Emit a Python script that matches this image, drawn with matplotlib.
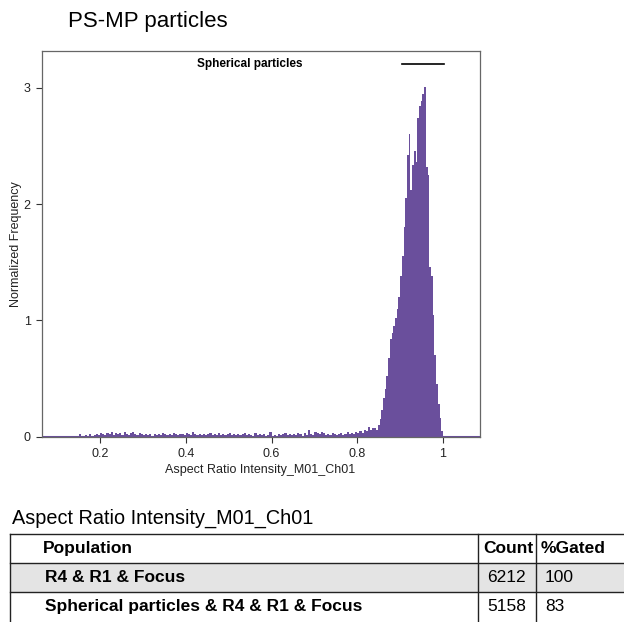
import matplotlib
matplotlib.use("Agg")
import matplotlib.pyplot as plt
from matplotlib.patches import Rectangle
import numpy as np

plt.rcParams["font.family"] = ["Liberation Sans", "DejaVu Sans"]

purple = "#6a4f9c"

# low-level tail, bins of 0.005 from 0.14 to 0.84
tail_start = 0.14
tail_width = 0.005
tail_heights = [
    0, 0, 0.02, 0, 0, 0.01, 0, 0.02, 0, 0.01,
    0.02, 0.01, 0.03, 0.02, 0.01, 0.03, 0.02, 0.04, 0.01, 0.03,
    0.02, 0.03, 0.01, 0.04, 0.02, 0.01, 0.03, 0.04, 0.02, 0.01,
    0.03, 0.02, 0.01, 0.02, 0.01, 0.02, 0, 0.02, 0.01, 0.02,
    0.01, 0.03, 0.02, 0.01, 0.02, 0.01, 0.03, 0.02, 0.01, 0.02,
    0.02, 0.01, 0.03, 0.02, 0.01, 0.04, 0.02, 0.01, 0.02, 0.01,
    0.02, 0.01, 0.02, 0.03, 0.01, 0.02, 0.01, 0.03, 0.01, 0.02,
    0.01, 0.02, 0.03, 0.01, 0.02, 0.01, 0.02, 0.01, 0.02, 0.03,
    0.01, 0.02, 0.01, 0, 0.03, 0.01, 0.02, 0.01, 0.02, 0,
    0.01, 0.04, 0, 0.01, 0, 0.02, 0.01, 0.02, 0.03, 0.01,
    0.02, 0.01, 0.02, 0.01, 0.03, 0.02, 0, 0.03, 0.01, 0.06,
    0.02, 0.01, 0.04, 0.03, 0.02, 0.04, 0.03, 0.01, 0.02, 0.01,
    0.03, 0.02, 0.01, 0.02, 0.03, 0.01, 0.02, 0.04, 0.02, 0.03,
    0.02, 0.04, 0.03, 0.05, 0.03, 0.06, 0.05, 0.08, 0.06, 0.07,
]

# main peak, bins of 0.004 from 0.84
peak_width = 0.004
peak_heights = [
    0.07, 0.06, 0.10, 0.15, 0.23, 0.33, 0.41, 0.52, 0.68, 0.84,
    0.89, 0.95, 1.02, 1.10, 1.20, 1.38, 1.55, 1.80, 2.05, 2.42,
    2.60, 2.12, 2.34, 2.46, 2.36, 2.74, 2.84, 2.89, 2.95, 3.01,
    2.32, 2.25, 1.46, 1.38, 1.05, 0.70, 0.45, 0.28, 0.16, 0.05,
]

x_ticks = [0.2, 0.4, 0.6, 0.8, 1.0]
x_tick_labels = ["0.2", "0.4", "0.6", "0.8", "1"]
y_ticks = [0, 1, 2, 3]

table_header = ["Population", "Count", "%Gated"]
table_rows = [
    ["R4 & R1 & Focus", "6212", "100"],
    ["Spherical particles & R4 & R1 & Focus", "5158", "83"],
]

W, H = 624, 622
fig = plt.figure(figsize=(W / 100, H / 100), dpi=100)

ax = fig.add_axes([41.7 / W, 1 - 436.6 / H, (479.5 - 41.7) / W, (436.6 - 50.7) / H])

tail_edges = tail_start + tail_width * np.arange(len(tail_heights) + 1)
peak_edges = tail_edges[-1] + peak_width * np.arange(len(peak_heights) + 1)
edges = np.concatenate([tail_edges[:-1], peak_edges])
heights = np.array(tail_heights + peak_heights)

ax.stairs(heights, edges, fill=True, color=purple, lw=0)
ax.axhline(0, color=purple, lw=2.2, zorder=1)

ax.set_xlim(0.064, 1.085)
ax.set_ylim(0, 3.32)
ax.set_xticks(x_ticks, x_tick_labels)
ax.set_yticks(y_ticks)
ax.tick_params(labelsize=9, length=4, width=0.8, color="#333333",
               labelcolor="#222222", pad=4)
for s in ax.spines.values():
    s.set_color("#666666")
    s.set_linewidth(0.9)

ax.set_xlabel("Aspect Ratio Intensity_M01_Ch01", fontsize=9, labelpad=3,
              color="#222222")
ax.set_ylabel("Normalized Frequency", fontsize=9, color="#222222")
ax.yaxis.set_label_coords(-0.046, 0.5)

# legend-like header inside the plot
ax.text(0.476, 0.965, "Spherical particles", transform=ax.transAxes,
        fontsize=8.5, fontweight="bold", ha="center", va="center")
ax.plot([0.822, 0.92], [0.965, 0.965], transform=ax.transAxes, color="black", lw=1.2)

fig.text(68 / W, 1 - 22 / H, "PS-MP particles", fontsize=16, ha="left", va="center")
fig.text(12 / W, 1 - 518 / H, "Aspect Ratio Intensity_M01_Ch01", fontsize=14.3,
         ha="left", va="center")

# table drawn in pixel coordinates
tax = fig.add_axes([0, 0, 1, 1])
tax.set_xlim(0, W)
tax.set_ylim(H, 0)
tax.axis("off")

row_top = [534, 563, 592]
row_h = 29
col_x = [10, 478, 536]
text_x = [43, 483, 541]

tax.add_patch(Rectangle((10, row_top[1]), W - 10, row_h, color="#e4e4e4", lw=0))
tax.plot([10, W], [row_top[0], row_top[0]], color="#222222", lw=1)
tax.plot([10, W], [row_top[1], row_top[1]], color="#222222", lw=1)
tax.plot([10, W], [row_top[2], row_top[2]], color="#222222", lw=1)
for cx in col_x:
    tax.plot([cx, cx], [row_top[0], H], color="#222222", lw=1)

for j, label in enumerate(table_header):
    tax.text(text_x[j], row_top[0] + row_h / 2, label, fontsize=12.5, fontweight="bold",
             ha="left", va="center")
for i, row in enumerate(table_rows):
    for j, val in enumerate(row):
        tax.text(text_x[j] + (2 if j == 0 else 4), row_top[i + 1] + row_h / 2, val,
                 fontsize=12.5, fontweight="bold" if j == 0 else "normal",
                 ha="left", va="center")

fig.savefig("out.png", dpi=100)
